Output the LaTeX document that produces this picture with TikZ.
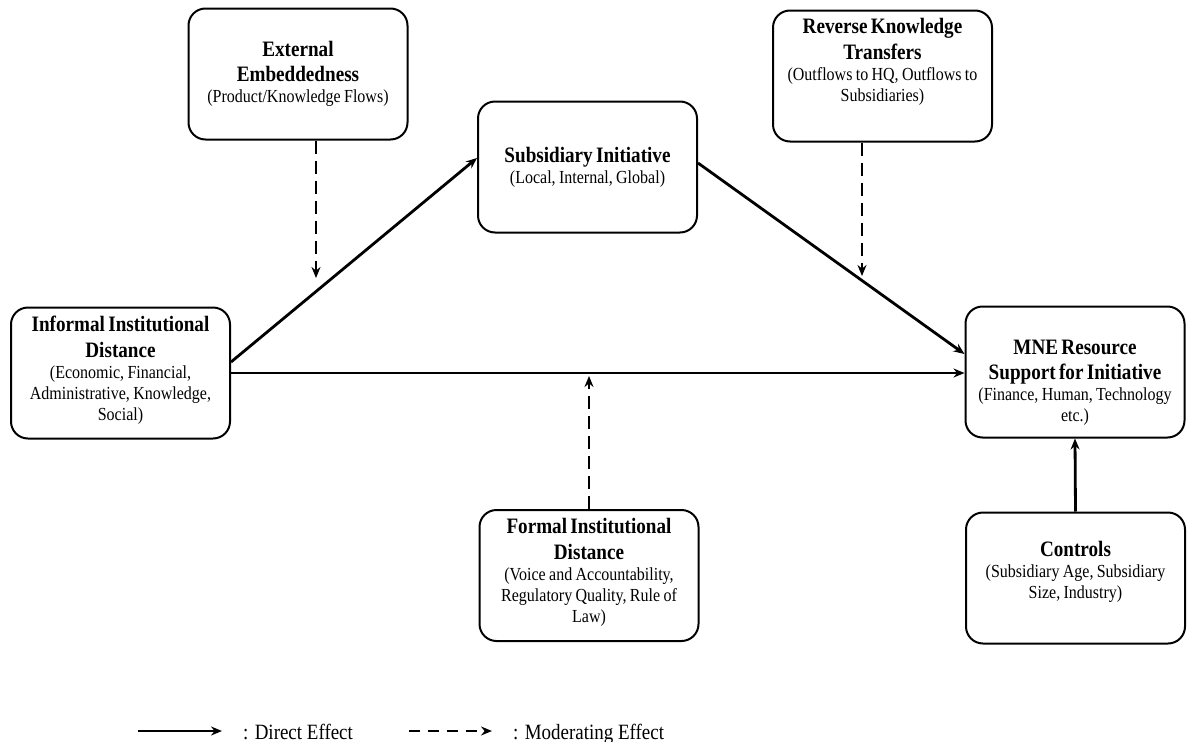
\documentclass[tikz,border=0pt]{standalone}
\usepackage{fontspec}
\setmainfont{Liberation Serif}[FakeStretch=0.87]
\usetikzlibrary{arrows.meta,positioning}
\newcommand{\blocktitle}{\fontsize{22}{25.5}\selectfont\bfseries}
\newcommand{\blocksub}{\fontsize{18.4}{21}\selectfont}

\begin{document}
\begin{tikzpicture}[x=1pt,y=-1pt,
    block/.style={draw=black,line width=2pt,rounded corners=17pt,
        minimum width=219pt,minimum height=131pt,inner sep=0pt},
    blocktext/.style={text width=216pt,align=center,inner sep=0pt},
    direct/.style={line width=2.8pt,-{Stealth[length=11pt,width=9pt]}},
    moderate/.style={direct,dash pattern=on 13pt off 7pt},
    legendtext/.style={anchor=base west,inner sep=0pt,font=\fontsize{21.8}{25}\selectfont}]
        \useasboundingbox (0,0) rectangle (1187,742);
        % boxes
        \node[block] (ext) at (298,74) {};
        \node[block] (sub) at (587.5,167) {};
        \node[block] (rkt) at (882.5,76) {};
        \node[block] (inf) at (120.5,373) {};
        \node[block] (mne) at (1075,372) {};
        \node[block] (fid) at (589,575.5) {};
        \node[block] (ctl) at (1075.5,578) {};
        % box texts
        \node[blocktext] (ext-t) at (ext) {{\blocktitle External\\ Embeddedness\par}{\blocksub (Product/Knowledge Flows)\par}};
        \node[blocktext] (sub-t) at (sub) {{\blocktitle Subsidiary Initiative\par}{\blocksub (Local, Internal, Global)\par}};
        \node[blocktext,yshift=14pt] (rkt-t) at (rkt) {{\blocktitle Reverse Knowledge\\ Transfers\par}{\blocksub (Outflows to HQ, Outflows to\\ Subsidiaries)\par}};
        \node[blocktext,yshift=3pt] (inf-t) at (inf) {{\blocktitle Informal Institutional\\ Distance\par}{\blocksub (Economic, Financial,\\ Administrative, Knowledge,\\ Social)\par}};
        \node[blocktext,yshift=-11pt] (mne-t) at (mne) {{\blocktitle MNE Resource\\ Support for Initiative\par}{\blocksub (Finance, Human, Technology\\ etc.)\par}};
        \node[blocktext,yshift=3pt] (fid-t) at (fid) {{\blocktitle Formal Institutional\\ Distance\par}{\blocksub (Voice and Accountability,\\ Regulatory Quality, Rule of\\ Law)\par}};
        \node[blocktext,yshift=6pt] (ctl-t) at (ctl) {{\blocktitle Controls\par}{\blocksub (Subsidiary Age, Subsidiary\\ Size, Industry)\par}};
        % direct effects
        \draw[direct] ([yshift=11pt]inf.east) -- ([yshift=9pt]sub.west);
        \draw[direct] (inf.east) -- (inf.east -| mne.west);
        \draw[direct] ([yshift=4pt]sub.east) -- ([yshift=18pt]mne.west);
        \draw[direct] (ctl.north) -- (mne.south);
        % moderating effects
        \coordinate (ext-end) at (316,278);
        \coordinate (rkt-end) at (862,276);
        \coordinate (fid-end) at (589,376);
        \draw[moderate] ([xshift=18pt]ext.south) -- (ext-end);
        \draw[moderate] ([xshift=-20.5pt]rkt.south) -- (rkt-end);
        \draw[moderate] (fid.north) -- (fid-end);
        % legend
        \coordinate (dir-a) at (138,731);
        \coordinate (dir-b) at (222,731);
        \coordinate (mod-a) at (409,731);
        \coordinate (mod-b) at (492,731);
        \draw[direct] (dir-a) -- (dir-b);
        \node[legendtext] (dir-t) at (243,739) {: Direct Effect};
        \draw[moderate,dash pattern=on 11pt off 8pt] (mod-a) -- (mod-b);
        \node[legendtext] (mod-t) at (513,739) {: Moderating Effect};
\end{tikzpicture}
\end{document}
